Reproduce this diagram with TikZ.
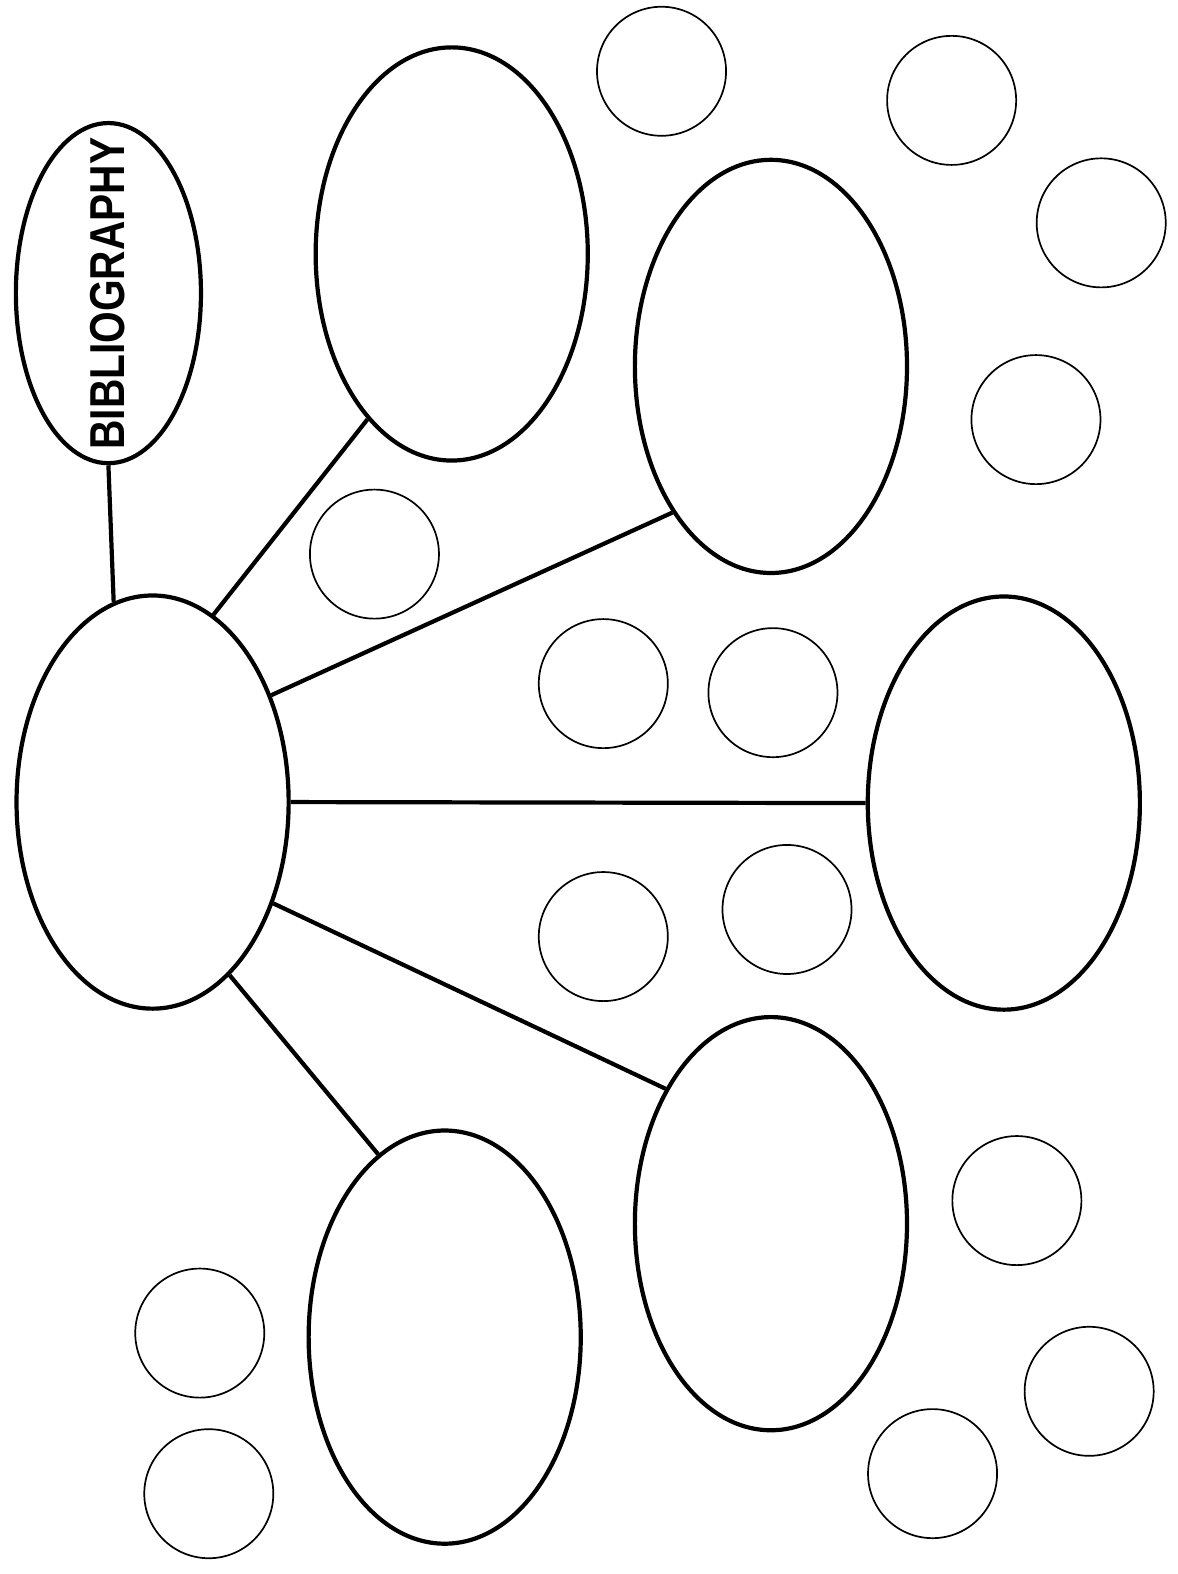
\documentclass[tikz,border=0pt]{standalone}
\usepackage{fontspec}
\setmainfont{Liberation Sans}
\usetikzlibrary{shapes.geometric}
\begin{document}
\begin{tikzpicture}[x=1.0034pt,y=-1.0034pt,
  bigell/.style={ellipse,draw,line width=4.2pt,inner sep=0pt,minimum width=272pt,minimum height=413pt},
  bibell/.style={ellipse,draw,line width=4.2pt,inner sep=0pt,minimum width=185pt,minimum height=340pt},
  smallc/.style={circle,draw,line width=1.7pt,inner sep=0pt,minimum size=129pt},
  conn/.style={line width=4.2pt}]
\useasboundingbox (0,0) rectangle (1173,1568);
\fill[white] (0,0) rectangle (1173,1568);
% big ellipses
\node[bibell] (bib) at (108,292) {};
\node[rotate=90,inner sep=0pt] (bibtext) at (107.5,292.5) {\scalebox{0.83}[1]{\fontsize{49}{49}\selectfont\bfseries BIBLIOGRAPHY}};
\node[bigell] (central) at (152,799) {};
\node[bigell] (e1) at (450,253) {};
\node[bigell] (e2) at (768,365) {};
\node[bigell] (e3) at (1000,800) {};
\node[bigell] (e4) at (768,1219) {};
\node[bigell] (e5) at (443,1332) {};
% small circles
\node[smallc] (c1) at (659,71) {};
\node[smallc] (c2) at (948,100) {};
\node[smallc] (c3) at (1097,222) {};
\node[smallc] (c4) at (1032,418) {};
\node[smallc] (c5) at (373,552) {};
\node[smallc] (c6) at (601,681) {};
\node[smallc] (c7) at (770,690) {};
\node[smallc] (c8) at (601,933) {};
\node[smallc] (c9) at (784,906) {};
\node[smallc] (c10) at (1013,1196) {};
\node[smallc] (c11) at (1085,1386) {};
\node[smallc] (c12) at (929,1468) {};
\node[smallc] (c13) at (199,1328) {};
\node[smallc] (c14) at (208,1488) {};
% connectors
\draw[conn] (bib.south) -- (central.101);
\draw[conn] (central.72) -- (e1.243);
\draw[conn] (central.42) -- (e2.236);
\draw[conn] (central.-0.5) -- (e3.180);
\draw[conn] (central.-40) -- (e4.128);
\draw[conn] (central.-66) -- (e5.110);
\end{tikzpicture}
\end{document}
